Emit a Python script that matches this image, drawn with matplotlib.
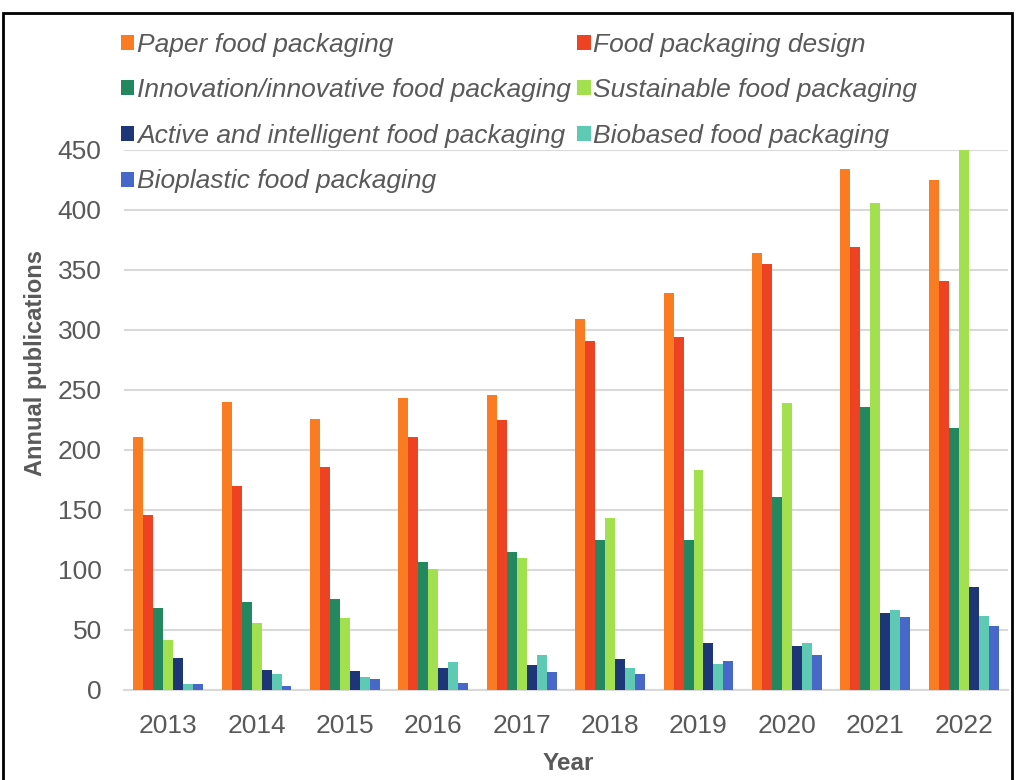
import numpy as np
import matplotlib
matplotlib.use('Agg')
import matplotlib.pyplot as plt
from matplotlib.patches import Rectangle

years = ['2013', '2014', '2015', '2016', '2017', '2018', '2019', '2020', '2021', '2022']
series_names = ['Paper food packaging', 'Food packaging design',
                'Innovation/innovative food packaging', 'Sustainable food packaging',
                'Active and intelligent food packaging', 'Biobased food packaging',
                'Bioplastic food packaging']
paper = [211, 240, 226, 243, 246, 309, 331, 364, 434, 425]
design = [146, 170, 186, 211, 225, 291, 294, 355, 369, 341]
innovation = [68, 73, 76, 107, 115, 125, 125, 161, 236, 218]
sustainable = [42, 56, 60, 101, 110, 143, 183, 239, 406, 450]
active = [27, 17, 16, 18, 21, 26, 39, 37, 64, 86]
biobased = [5, 13, 11, 23, 29, 18, 22, 39, 67, 62]
bioplastic = [5, 3, 9, 6, 15, 13, 24, 29, 61, 53]

colors = ['#F97B22', '#EE4322', '#23875F', '#A3E050', '#1E3578', '#5ECAB4', '#4767C9']
series = [paper, design, innovation, sustainable, active, biobased, bioplastic]

plt.rcParams['font.family'] = ['Liberation Sans', 'DejaVu Sans']
txt = '#595959'

fig = plt.figure(figsize=(10.16, 7.8), dpi=100)
ax = fig.add_axes([0.122, 0.1154, 0.87, 0.6923])

x = np.arange(len(years))
w = 0.113
bars = []
for i, (vals, c, name) in enumerate(zip(series, colors, series_names)):
    bars.append(ax.bar(x + (i - 3) * w, vals, width=w, color=c, label=name, zorder=3))

ax.set_xlim(-0.5, 9.5)
ax.set_ylim(0, 450)
ax.set_yticks(np.arange(0, 451, 50))
ax.set_xticks(x)
ax.set_xticklabels(years)
ax.tick_params(axis='both', length=0, labelsize=19, colors=txt)
ax.tick_params(axis='y', pad=16)
ax.tick_params(axis='x', pad=17)
ax.grid(axis='y', color='#D9D9D9', linewidth=1.5, zorder=0)
for s in ['top', 'right', 'left']:
    ax.spines[s].set_visible(False)
ax.spines['bottom'].set_color('#D9D9D9')
ax.spines['bottom'].set_linewidth(1.5)

fig.text(36 / 1016, 1 - 363 / 780, 'Annual publications', rotation=90, ha='center', va='center',
         fontsize=17, fontweight='bold', color=txt)
fig.text(568 / 1016, 1 - 764 / 780, 'Year', ha='center', va='center',
         fontsize=17.5, fontweight='bold', color=txt)

# legend filled row by row, two columns
order = [0, 2, 4, 6, 1, 3, 5]
leg = fig.legend([bars[i] for i in order], [series_names[i] for i in order],
                 loc='upper left', bbox_to_anchor=(0.101, 0.982), ncol=2, frameon=False,
                 prop={'size': 19, 'style': 'italic'}, handlelength=0.5, handleheight=0.5,
                 handletextpad=0.1, columnspacing=0.25, labelspacing=0.82, borderpad=0.2)
for t in leg.get_texts():
    t.set_color(txt)

fig.add_artist(Rectangle((0.003, -0.01), 0.993, 0.993, transform=fig.transFigure,
                         fill=False, edgecolor='black', linewidth=2))

fig.savefig('out.png', dpi=100)
